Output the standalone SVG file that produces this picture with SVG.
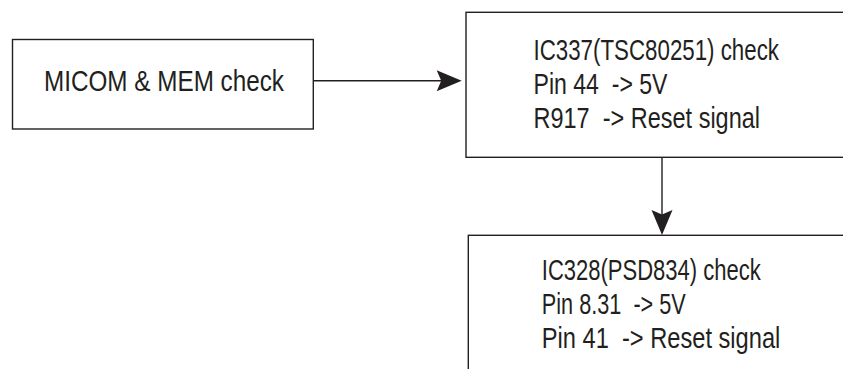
<svg xmlns="http://www.w3.org/2000/svg" width="843" height="369" viewBox="0 0 843 369">
  <style>
    .box { fill: #ffffff; stroke: #231f20; stroke-width: 1.4; }
    .lbl { font-family: "Liberation Sans", Arial, sans-serif; font-size: 29.5px; fill: #231f20; }
    .conn { fill: none; stroke: #231f20; stroke-width: 1.4; }
  </style>
  <defs>
    <marker id="arrow" markerUnits="userSpaceOnUse" viewBox="-26 -11 27 22" markerWidth="27" markerHeight="22" refX="-19" refY="0" orient="auto">
      <path d="M0,0 L-25,-10.5 L-20.5,0 L-25,10.5 Z" fill="#231f20"/>
    </marker>
  </defs>
  <rect width="843" height="369" fill="#ffffff"/>

  <g id="node-micom">
    <rect class="box" x="12.5" y="39.5" width="300.8" height="89.5"/>
    <text class="lbl" x="44" y="90.5" textLength="240" lengthAdjust="spacingAndGlyphs">MICOM &amp; MEM check</text>
  </g>

  <g id="node-ic337">
    <rect class="box" x="466" y="12.3" width="400" height="145"/>
    <text class="lbl" xml:space="preserve" x="533.5" y="60" textLength="245.5" lengthAdjust="spacingAndGlyphs">IC337(TSC80251) check</text>
    <text class="lbl" xml:space="preserve" x="533.5" y="94" textLength="134" lengthAdjust="spacingAndGlyphs">Pin 44  -&gt; 5V</text>
    <text class="lbl" xml:space="preserve" x="533.5" y="128" textLength="226.5" lengthAdjust="spacingAndGlyphs">R917  -&gt; Reset signal</text>
  </g>

  <g id="node-ic328">
    <rect class="box" x="468.3" y="235.3" width="400" height="200"/>
    <text class="lbl" xml:space="preserve" x="541.8" y="280" textLength="219" lengthAdjust="spacingAndGlyphs">IC328(PSD834) check</text>
    <text class="lbl" xml:space="preserve" x="541.8" y="314" textLength="144" lengthAdjust="spacingAndGlyphs">Pin 8.31  -&gt; 5V</text>
    <text class="lbl" xml:space="preserve" x="541.8" y="348" textLength="238.5" lengthAdjust="spacingAndGlyphs">Pin 41  -&gt; Reset signal</text>
  </g>

  <g id="connectors">
    <path class="conn" d="M313.3,80.7 H442.7" marker-end="url(#arrow)"/>
    <path class="conn" d="M662,157.3 V216" marker-end="url(#arrow)"/>
  </g>
</svg>
